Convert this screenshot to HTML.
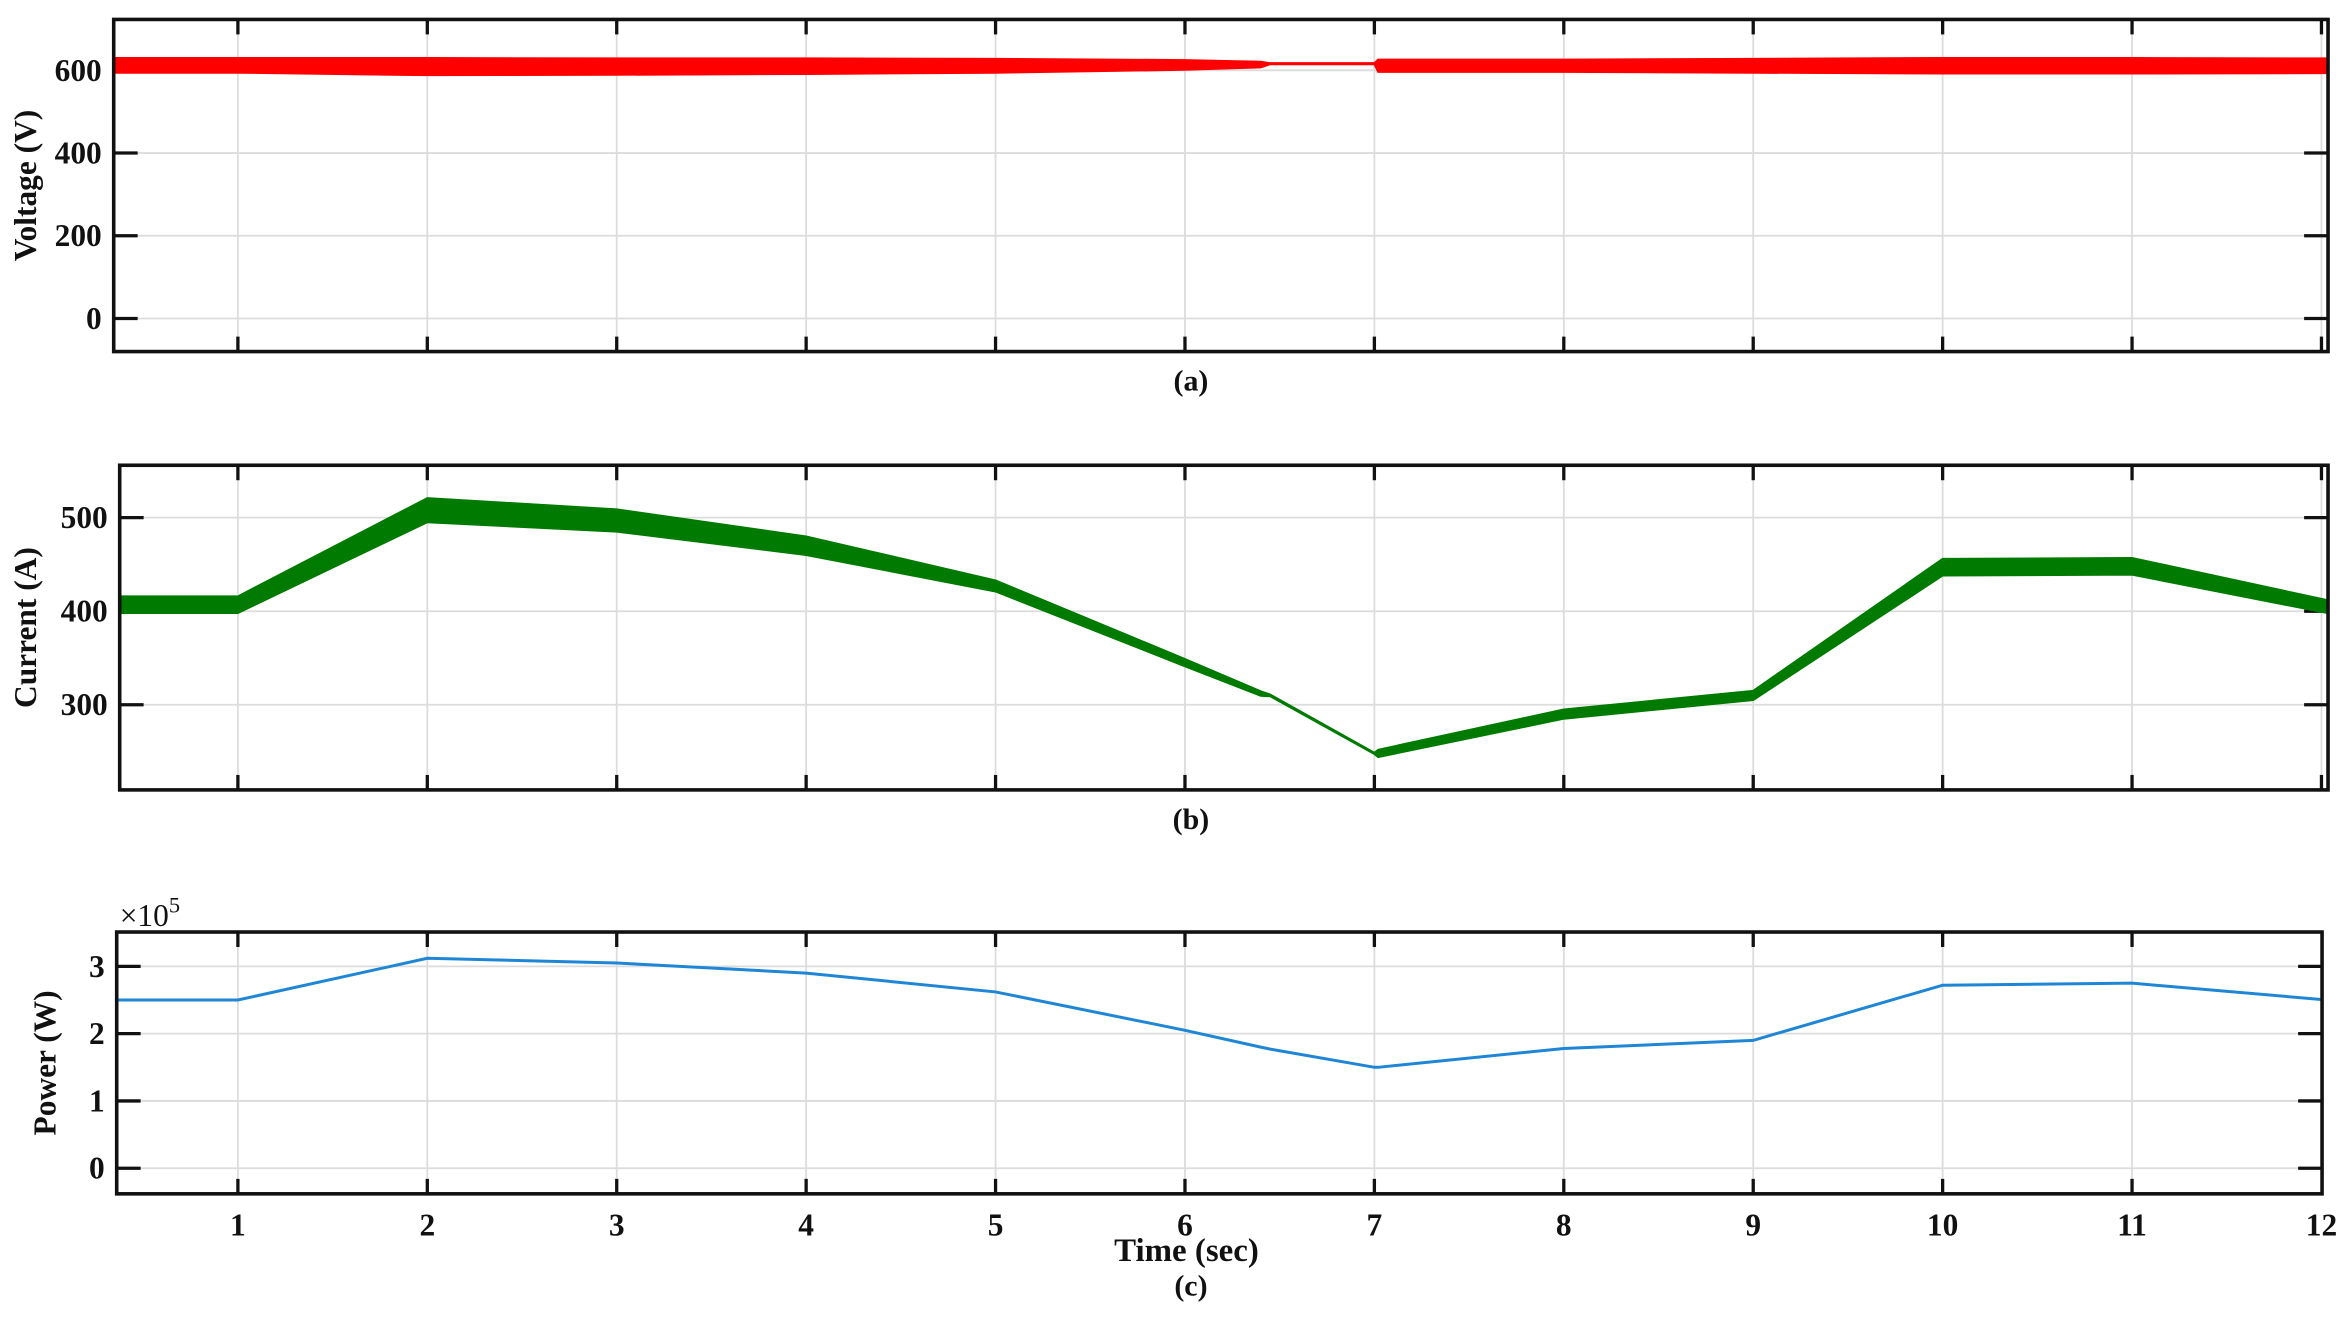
<!DOCTYPE html>
<html><head><meta charset="utf-8"><style>
html,body{margin:0;padding:0;background:#fff;}
svg{display:block;}
text{font-family:"Liberation Serif",serif;font-weight:bold;fill:#111;}
</style></head><body>
<svg id="fig" width="2346" height="1318" viewBox="0 0 1568 881" preserveAspectRatio="none" xmlns="http://www.w3.org/2000/svg"></svg>
<script>
const timeTicks = [1,2,3,4,5,6,7,8,9,10,11,12];
const tPoints = [0.35,1,2,3,4,5,6,6.4,6.45,7,7.02,8,9,10,11,12.03];
const voltage = [612,612,609,609,610,611,613,614,616,616,611,611,611,611,611,611];
const voltageWidth = [36,36,42,40,38,34,24,14,3,3,30,30,34,38,38,36];
const current = [407,407,508,497,470,427,345,312,310,248,248,290,310,447,448,405];
const currentWidth = [18,18,26,24,20,12,8,5,2,1.5,8,10,10,18,18,14];
const power = [2.5,2.5,3.12,3.05,2.9,2.62,2.05,1.8,1.77,1.5,1.5,1.78,1.9,2.72,2.75,2.5];
const vTicks = [0,200,400,600];
const iTicks = [300,400,500];
const pTicks = [0,1,2,3];

const NS = "http://www.w3.org/2000/svg";
const svg = document.getElementById('fig');
function mk(tag, attrs, parent){const e=document.createElementNS(NS,tag);for(const k in attrs)e.setAttribute(k,attrs[k]);(parent||svg).appendChild(e);return e;}
function xS(t){return 159+(t-1)*126.6;}

const panels = [
 {name:'voltage', left:76,right:1556,top:13,bottom:235,ymin:-80,ymax:723,ticks:vTicks,label:'Voltage (V)',cap:'(a)',capY:261,labelX:24},
 {name:'current', left:80,right:1556,top:311,bottom:528,ymin:209,ymax:556,ticks:iTicks,label:'Current (A)',cap:'(b)',capY:554,labelX:24},
 {name:'power', left:78,right:1552,top:623,bottom:798,ymin:-0.38,ymax:3.51,ticks:pTicks,label:'Power (W)',cap:'(c)',capY:866,labelX:37}
];

panels.forEach((p,pi)=>{
  const g = mk('g',{});
  
  
  const yS = v => p.bottom-(v-p.ymin)/(p.ymax-p.ymin)*(p.bottom-p.top);
  p.yS = yS;
  timeTicks.forEach(t=>{
    const x=xS(t); if(x>p.right-1) return;
    const l=mk('line',{x1:x,x2:x,y1:p.top,y2:p.bottom,stroke:'#dcdcdc','stroke-width':1.2},g);
    
    
  });
  p.ticks.forEach(v=>{
    const y=yS(v);
    const l=mk('line',{x1:p.left,x2:p.right,y1:y,y2:y,stroke:'#dcdcdc','stroke-width':1.2},g);
    
    
    const tk=mk('line',{x1:p.left,x2:p.left+16,y1:y,y2:y,stroke:'#111','stroke-width':2.2},g);
    
    
    const tr=mk('line',{x1:p.right-16,x2:p.right,y1:y,y2:y,stroke:'#111','stroke-width':2.2},g);
    
    
    const tx=mk('text',{x:p.left-8,y:y+7,'text-anchor':'end','font-size':21},g);
    
    
    tx.textContent=v;
  });
  timeTicks.forEach(t=>{
    const x=xS(t); if(x>p.right-1) return;
    const a=mk('line',{x1:x,x2:x,y1:p.top,y2:p.top+10,stroke:'#111','stroke-width':2.2},g);
    
    
    const b=mk('line',{x1:x,x2:x,y1:p.bottom-10,y2:p.bottom,stroke:'#111','stroke-width':2.2},g);
    
    
  });
  const yl=mk('text',{x:0,y:0,'text-anchor':'middle','font-size':21,transform:`translate(${p.labelX},${(p.top+p.bottom)/2}) rotate(-90)`},g);
  
  
  yl.textContent=p.label;
  const cap=mk('text',{x:796,y:p.capY,'text-anchor':'middle','font-size':20},g);
  
  
  cap.textContent=p.cap;
});

function band(p, vals, widths, color, name){
  const up=[], lo=[];
  tPoints.forEach((t,i)=>{up.push(xS(t)+','+p.yS(vals[i]+widths[i]/2));lo.unshift(xS(t)+','+p.yS(vals[i]-widths[i]/2));});
  const cp=mk('clipPath',{id:'clip-'+name});
  mk('rect',{x:p.left,y:p.top,width:p.right-p.left,height:p.bottom-p.top},cp);
  const poly=mk('polygon',{points:up.concat(lo).join(' '),fill:color,stroke:color,'stroke-width':1.2,'clip-path':'url(#clip-'+name+')'});
  
  
}
band(panels[0], voltage, voltageWidth, '#ff0000', 'voltage-series');
band(panels[1], current, currentWidth, '#007a00', 'current-series');
{
  const p=panels[2];
  const pts=tPoints.map((t,i)=>xS(t)+','+p.yS(power[i])).join(' ');
  const cp=mk('clipPath',{id:'clip-power'});
  mk('rect',{x:p.left,y:p.top,width:p.right-p.left,height:p.bottom-p.top},cp);
  const pl=mk('polyline',{points:pts,fill:'none',stroke:'#1f86d6','stroke-width':2,'clip-path':'url(#clip-power)'});
  
  
}
panels.forEach(p=>{
  const r=mk('rect',{x:p.left,y:p.top,width:p.right-p.left,height:p.bottom-p.top,fill:'none',stroke:'#111','stroke-width':2.4});
  
  
});
timeTicks.forEach(t=>{
  const tx=mk('text',{x:xS(t),y:826,'text-anchor':'middle','font-size':21});
  
  
  tx.textContent=t;
});
const xt=mk('text',{x:793,y:843,'text-anchor':'middle','font-size':22});


xt.textContent='Time (sec)';
const ex=mk('text',{x:80,y:619,'font-size':21});


ex.innerHTML='×10<tspan dy="-9" font-size="15">5</tspan>';
ex.style.fontWeight='normal';
</script>
</body></html>
